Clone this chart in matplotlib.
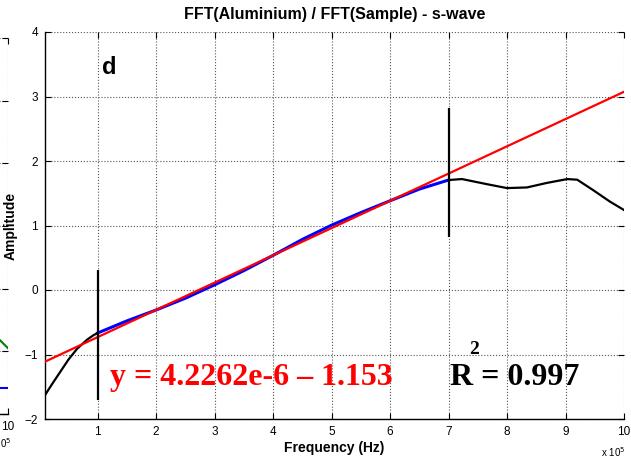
import matplotlib
matplotlib.use("Agg")
import matplotlib.pyplot as plt

plt.rcParams['font.family'] = ['Liberation Sans', 'DejaVu Sans']

# frequency in units of 1e5 Hz
black_lo_x = [0.1, 0.22, 0.36, 0.5, 0.65, 0.82, 0.93, 1.0]
black_lo_y = [-1.63, -1.46, -1.27, -1.08, -0.91, -0.77, -0.70, -0.667]
black_hi_x = [7.0, 7.23, 7.66, 8.0, 8.34, 8.68, 9.03, 9.2, 9.47, 9.76, 10.0]
black_hi_y = [1.705, 1.72, 1.64, 1.58, 1.59, 1.66, 1.72, 1.71, 1.55, 1.37, 1.24]
blue_x = [1.0, 1.5, 2.0, 2.5, 3.0, 3.5, 4.0, 4.5, 5.0, 5.5, 6.0, 6.5, 7.0]
blue_y = [-0.667, -0.479, -0.31, -0.127, 0.08, 0.30, 0.537, 0.784, 1.005, 1.20, 1.383, 1.564, 1.705]
red_x = [0.1, 10.0]
red_y = [-1.111, 3.073]
marker_x = [1.0, 7.0]
marker_top = [0.31, 2.82]
marker_bot = [-1.70, 0.82]

# partial neighbour panel on the left
nb_green_x = [9.5, 10.0]
nb_green_y = [1.51, 1.05]
nb_blue_x = [9.5, 10.0]
nb_blue_y = [0.41, 0.41]

W, H = 631, 459
fig = plt.figure(figsize=(W / 100, H / 100), dpi=100)


def style(ax):
    ax.grid(True, linestyle=':', color='#555555', linewidth=0.8)
    ax.tick_params(direction='in', length=4, top=True, right=True,
                   labelsize=8.5, width=0.8, pad=5)
    for s in ['top', 'right']:
        ax.spines[s].set_visible(False)
    for s in ['left', 'bottom']:
        ax.spines[s].set_linewidth(1.0)


# neighbour axes (mostly off the figure)
ax0 = fig.add_axes([(8 - 578) / W, 1 - 414 / H, 578 / W, (414 - 38) / H])
ax0.plot(nb_green_x, nb_green_y, color='green', lw=1.5)
ax0.plot(nb_blue_x, nb_blue_y, color='blue', lw=1.5)
ax0.set_xlim(0, 10)
ax0.set_ylim(0, 6)
ax0.set_xticks(range(0, 11))
ax0.set_xticklabels([''] * 10 + ['10'])
ax0.set_yticks(range(0, 7))
ax0.set_yticklabels([])
style(ax0)
fig.text(0, 1 - 443 / H, r'0$^5$', fontsize=7, ha='left', va='center')

# main axes
ax = fig.add_axes([45 / W, 1 - 419 / H, (624 - 45) / W, (419 - 32) / H])
ax.plot(blue_x, blue_y, color='blue', lw=2.2, zorder=3)
ax.plot(black_lo_x, black_lo_y, color='black', lw=1.6, zorder=3)
ax.plot(black_hi_x, black_hi_y, color='black', lw=1.6, zorder=3)
ax.plot(red_x, red_y, color='red', lw=1.6, zorder=4)
ax.vlines(marker_x, marker_bot, marker_top, color='black', lw=1.6, zorder=5)

ax.set_xlim(0.1, 10)
ax.set_ylim(-2, 4)
ax.set_xticks(range(1, 11))
ax.set_yticks(range(-2, 5))
style(ax)

ax.set_title('FFT(Aluminium) / FFT(Sample) - s-wave', fontsize=11.5,
             fontweight='bold', pad=9)
ax.set_xlabel('Frequency (Hz)', fontsize=10, fontweight='bold', labelpad=2)
ax.set_ylabel('Amplitude', fontsize=10, fontweight='bold')
ax.yaxis.set_label_coords((18 - 45) / 579, 0.5)
fig.text(625 / W, 1 - 452 / H, r'x 10$^5$', fontsize=7, ha='right', va='center')

fig.text(109 / W, 1 - 67 / H, 'd', fontsize=17, fontweight='bold',
         ha='center', va='center')

serif = ['Liberation Serif', 'DejaVu Serif']
fig.text(110 / W, 1 - 385 / H, 'y = 4.2262e-6 \u2013 1.153', family=serif,
         fontsize=23, fontweight='bold', color='red', ha='left', va='baseline')
fig.text(450 / W, 1 - 385 / H, 'R = 0.997', family=serif,
         fontsize=23, fontweight='bold', color='black', ha='left', va='baseline')
fig.text(474 / W, 1 - 350 / H, '2', family=serif,
         fontsize=14, fontweight='bold', color='black', ha='center', va='center')

fig.savefig('out.png', dpi=100)
